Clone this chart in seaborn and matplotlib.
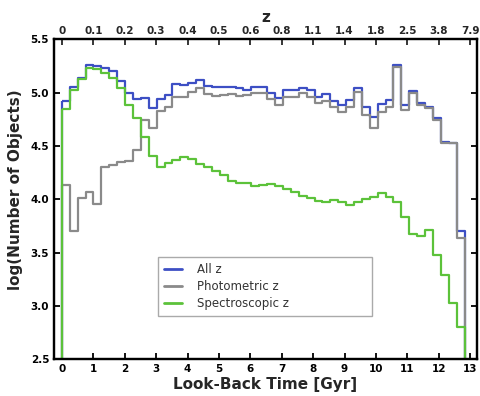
import numpy as np
import pandas as pd
import matplotlib
matplotlib.use("Agg")
import matplotlib.pyplot as plt
from matplotlib.lines import Line2D
import seaborn as sns

# ---- data (log10 counts per look-back-time bin) ----
bin_edges = list(np.linspace(0.0, 12.82, 52))  # Gyr, 51 bins

all_z = [4.92, 5.05, 5.14, 5.26, 5.25, 5.235, 5.20, 5.11, 5.00, 4.945,
         4.955, 4.855, 4.94, 4.98, 5.085, 5.07, 5.095, 5.12, 5.065, 5.05,
         5.05, 5.055, 5.04, 5.03, 5.05, 5.05, 5.00, 4.955, 5.025, 5.025,
         5.045, 5.025, 4.963, 4.985, 4.923, 4.885, 4.93, 5.047, 4.87, 4.77,
         4.89, 4.93, 5.26, 4.885, 5.016, 4.90, 4.87, 4.76, 4.54, 4.53,
         3.70]

photo_z = [4.135, 3.70, 4.015, 4.073, 3.956, 4.30, 4.32, 4.355, 4.36, 4.463,
           4.74, 4.665, 4.825, 4.87, 4.96, 4.96, 5.01, 5.045, 4.985, 4.97,
           4.975, 4.985, 4.97, 4.975, 4.995, 4.995, 4.94, 4.885, 4.963, 4.963,
           4.995, 4.963, 4.90, 4.92, 4.87, 4.817, 4.87, 5.01, 4.79, 4.667,
           4.82, 4.87, 5.245, 4.84, 4.995, 4.885, 4.854, 4.745, 4.525, 4.525,
           3.64]

spec_z = [4.85, 5.03, 5.125, 5.23, 5.223, 5.185, 5.135, 5.04, 4.885, 4.76,
          4.585, 4.41, 4.307, 4.34, 4.37, 4.40, 4.38, 4.335, 4.30, 4.265,
          4.225, 4.17, 4.15, 4.15, 4.13, 4.14, 4.145, 4.125, 4.10, 4.067,
          4.035, 4.01, 3.99, 3.98, 3.995, 3.98, 3.948, 3.98, 4.004, 4.026,
          4.06, 4.026, 3.98, 3.84, 3.675, 3.655, 3.714, 3.48, 3.29, 3.027,
          2.807]

series_names = ["All z", "Photometric z", "Spectroscopic z"]
series_colors = ["#3d4fc4", "#8a8a8a", "#5cc23a"]

x_ticks = list(range(14))
z_labels = ["0", "0.1", "0.2", "0.3", "0.4", "0.5", "0.6", "0.8",
            "1.1", "1.4", "1.8", "2.5", "3.8", "7.9"]
y_ticks = [2.5, 3.0, 3.5, 4.0, 4.5, 5.0, 5.5]

edges_arr = np.asarray(bin_edges)
centers = 0.5 * (edges_arr[:-1] + edges_arr[1:])
df = pd.DataFrame({"t": centers, "All z": all_z,
                   "Photometric z": photo_z, "Spectroscopic z": spec_z})

sns.set_theme(style="ticks")
plt.rcParams["font.family"] = ["DejaVu Sans"]

fig = plt.figure(figsize=(4.8, 3.96), dpi=100)
ax = fig.add_axes([0.1125, 0.0922, 0.8815, 0.8083])

for name, col in zip(series_names, series_colors):
    sns.histplot(data=df, x="t", weights=name, bins=bin_edges,
                 element="step", fill=True, color=col, facecolor="none",
                 edgecolor=col, linewidth=1.6, ax=ax)

ax.set_xlim(-0.25, 13.22)
ax.set_ylim(2.5, 5.5)
ax.set_xticks(x_ticks)
ax.set_xticklabels([str(t) for t in x_ticks])
ax.set_yticks(y_ticks)
ax.set_yticklabels([f"{v:.1f}" for v in y_ticks])
ax.set_xlabel("Look-Back Time [Gyr]", fontsize=11, fontweight="bold", labelpad=2)
ax.set_ylabel("log(Number of Objects)", fontsize=11, fontweight="bold")
ax.yaxis.set_label_coords(-0.0726, 0.53)

for lab in ax.get_xticklabels() + ax.get_yticklabels():
    lab.set_fontweight("bold")
    lab.set_fontsize(7.5)

ax.tick_params(axis="both", direction="in", length=4, width=1.3,
               colors="black", pad=3.5)
ax.tick_params(axis="y", right=True)
for sp in ax.spines.values():
    sp.set_visible(True)
    sp.set_linewidth(1.6)
    sp.set_color("black")

ax2 = ax.twiny()
ax2.set_xlim(ax.get_xlim())
ax2.set_xticks(x_ticks)
ax2.set_xticklabels(z_labels, fontsize=7.5, fontweight="bold")
ax2.set_xlabel("z", fontsize=11, fontweight="bold", labelpad=3)
ax2.tick_params(axis="x", direction="in", length=4, width=1.3, pad=2.5)
for sp in ax2.spines.values():
    sp.set_linewidth(1.6)
    sp.set_color("black")

handles = [Line2D([], [], color=c, lw=2) for c in series_colors]
leg = ax.legend(handles, series_names, loc="lower left",
                bbox_to_anchor=(0.245, 0.136, 0.507, 0.181), mode="expand",
                fontsize=8.5, frameon=True, fancybox=False, framealpha=1,
                handlelength=1.6, handletextpad=1.2, labelspacing=0.35,
                borderpad=0.5, borderaxespad=0)
leg.get_frame().set_edgecolor("#aaaaaa")
leg.get_frame().set_linewidth(1.0)
for t in leg.get_texts():
    t.set_color("#333333")

fig.savefig("out.png", dpi=100)
